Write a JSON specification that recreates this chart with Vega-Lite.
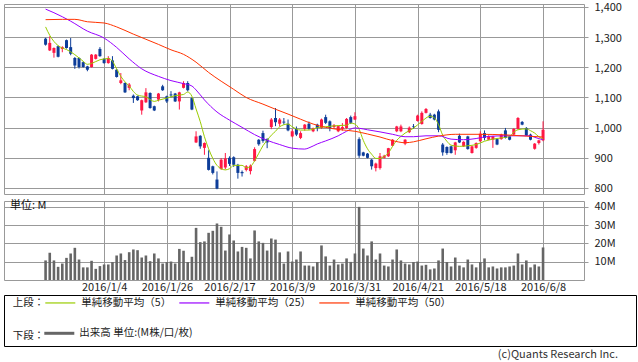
{
"$schema": "https://vega.github.io/schema/vega-lite/v6.json",
"padding": {"left": 3, "top": 1, "right": 0, "bottom": 0},
"background": "white",
"datasets": {
"k": [
{"i":0,"o":1295,"h":1298,"l":1272,"c":1275,"v":10.7},
{"i":1,"o":1256,"h":1303,"l":1254,"c":1281,"v":14.9},
{"i":2,"o":1248,"h":1266,"l":1232,"c":1264,"v":10.7},
{"i":3,"o":1270,"h":1272,"l":1233,"c":1235,"v":7.2},
{"i":4,"o":1261,"h":1270,"l":1250,"c":1267,"v":9.0},
{"i":5,"o":1290,"h":1292,"l":1262,"c":1264,"v":12.1},
{"i":6,"o":1267,"h":1297,"l":1240,"c":1245,"v":14.5},
{"i":7,"o":1231,"h":1234,"l":1195,"c":1206,"v":17.6},
{"i":8,"o":1231,"h":1233,"l":1196,"c":1201,"v":11.2},
{"i":9,"o":1217,"h":1219,"l":1199,"c":1201,"v":6.9},
{"i":10,"o":1203,"h":1205,"l":1187,"c":1192,"v":6.9},
{"i":11,"o":1201,"h":1244,"l":1199,"c":1242,"v":10.5},
{"i":12,"o":1228,"h":1244,"l":1226,"c":1242,"v":6.1},
{"i":13,"o":1261,"h":1267,"l":1235,"c":1237,"v":7.6},
{"i":14,"o":1228,"h":1231,"l":1212,"c":1214,"v":8.5},
{"i":15,"o":1214,"h":1237,"l":1212,"c":1231,"v":8.5},
{"i":16,"o":1223,"h":1237,"l":1193,"c":1195,"v":9.8},
{"i":17,"o":1192,"h":1194,"l":1166,"c":1168,"v":13.4},
{"i":18,"o":1148,"h":1181,"l":1144,"c":1157,"v":14.5},
{"i":19,"o":1148,"h":1150,"l":1115,"c":1117,"v":10.9},
{"i":20,"o":1132,"h":1148,"l":1124,"c":1143,"v":15.2},
{"i":21,"o":1106,"h":1110,"l":1082,"c":1098,"v":16.7},
{"i":22,"o":1104,"h":1106,"l":1089,"c":1091,"v":16.3},
{"i":23,"o":1057,"h":1093,"l":1043,"c":1091,"v":12.3},
{"i":24,"o":1084,"h":1131,"l":1082,"c":1117,"v":13.4},
{"i":25,"o":1115,"h":1117,"l":1063,"c":1065,"v":10.3},
{"i":26,"o":1071,"h":1073,"l":1055,"c":1057,"v":14.5},
{"i":27,"o":1093,"h":1115,"l":1087,"c":1113,"v":11.8},
{"i":28,"o":1137,"h":1142,"l":1122,"c":1124,"v":9.0},
{"i":29,"o":1104,"h":1106,"l":1082,"c":1087,"v":9.8},
{"i":30,"o":1110,"h":1121,"l":1100,"c":1107,"v":10.1},
{"i":31,"o":1113,"h":1115,"l":1085,"c":1087,"v":9.0},
{"i":32,"o":1087,"h":1119,"l":1060,"c":1117,"v":17.0},
{"i":33,"o":1132,"h":1154,"l":1130,"c":1148,"v":16.0},
{"i":34,"o":1148,"h":1154,"l":1120,"c":1124,"v":9.8},
{"i":35,"o":1098,"h":1100,"l":1058,"c":1060,"v":12.7},
{"i":36,"o":951,"h":988,"l":949,"c":971,"v":28.5},
{"i":37,"o":973,"h":975,"l":930,"c":938,"v":20.7},
{"i":38,"o":933,"h":951,"l":910,"c":949,"v":21.1},
{"i":39,"o":900,"h":925,"l":858,"c":860,"v":25.8},
{"i":40,"o":872,"h":874,"l":845,"c":850,"v":26.9},
{"i":41,"o":828,"h":855,"l":796,"c":798,"v":30.9},
{"i":42,"o":863,"h":899,"l":860,"c":894,"v":29.1},
{"i":43,"o":868,"h":916,"l":862,"c":898,"v":16.1},
{"i":44,"o":900,"h":905,"l":873,"c":880,"v":24.9},
{"i":45,"o":902,"h":905,"l":870,"c":877,"v":21.6},
{"i":46,"o":877,"h":880,"l":831,"c":850,"v":15.6},
{"i":47,"o":853,"h":858,"l":838,"c":849,"v":18.1},
{"i":48,"o":860,"h":876,"l":855,"c":872,"v":17.6},
{"i":49,"o":856,"h":878,"l":845,"c":874,"v":11.8},
{"i":50,"o":890,"h":935,"l":888,"c":929,"v":27.1},
{"i":51,"o":960,"h":962,"l":940,"c":945,"v":21.1},
{"i":52,"o":982,"h":990,"l":950,"c":956,"v":20.3},
{"i":53,"o":962,"h":965,"l":932,"c":951,"v":16.1},
{"i":54,"o":1002,"h":1032,"l":995,"c":1027,"v":22.7},
{"i":55,"o":1032,"h":1065,"l":1005,"c":1018,"v":22.1},
{"i":56,"o":1013,"h":1032,"l":1004,"c":1027,"v":15.1},
{"i":57,"o":1020,"h":1032,"l":1010,"c":1017,"v":9.0},
{"i":58,"o":1013,"h":1027,"l":988,"c":991,"v":15.6},
{"i":59,"o":971,"h":995,"l":968,"c":988,"v":10.1},
{"i":60,"o":996,"h":1004,"l":972,"c":977,"v":11.2},
{"i":61,"o":966,"h":988,"l":962,"c":982,"v":15.6},
{"i":62,"o":996,"h":1012,"l":990,"c":1010,"v":7.9},
{"i":63,"o":1013,"h":1020,"l":993,"c":996,"v":7.9},
{"i":64,"o":988,"h":1000,"l":985,"c":998,"v":7.4},
{"i":65,"o":1010,"h":1013,"l":988,"c":999,"v":9.8},
{"i":66,"o":999,"h":1030,"l":996,"c":1027,"v":18.9},
{"i":67,"o":1035,"h":1043,"l":1012,"c":1016,"v":12.9},
{"i":68,"o":1021,"h":1024,"l":988,"c":999,"v":7.9},
{"i":69,"o":1002,"h":1012,"l":996,"c":1008,"v":11.2},
{"i":70,"o":988,"h":1007,"l":985,"c":1005,"v":8.5},
{"i":71,"o":996,"h":1015,"l":990,"c":1002,"v":9.0},
{"i":72,"o":999,"h":1032,"l":996,"c":1029,"v":11.8},
{"i":73,"o":1035,"h":1040,"l":1012,"c":1016,"v":9.9},
{"i":74,"o":1027,"h":1051,"l":1025,"c":1038,"v":14.5},
{"i":75,"o":962,"h":968,"l":900,"c":907,"v":40.0},
{"i":76,"o":918,"h":920,"l":905,"c":907,"v":17.2},
{"i":77,"o":914,"h":916,"l":898,"c":900,"v":13.4},
{"i":78,"o":894,"h":896,"l":861,"c":872,"v":21.1},
{"i":79,"o":866,"h":884,"l":855,"c":881,"v":11.2},
{"i":80,"o":866,"h":916,"l":861,"c":905,"v":14.5},
{"i":81,"o":900,"h":910,"l":898,"c":907,"v":7.9},
{"i":82,"o":905,"h":933,"l":903,"c":932,"v":7.4},
{"i":83,"o":940,"h":962,"l":938,"c":960,"v":11.2},
{"i":84,"o":988,"h":1006,"l":985,"c":1004,"v":16.7},
{"i":85,"o":988,"h":1010,"l":985,"c":1004,"v":10.7},
{"i":86,"o":947,"h":962,"l":942,"c":960,"v":9.0},
{"i":87,"o":985,"h":1004,"l":982,"c":1000,"v":8.5},
{"i":88,"o":1004,"h":1012,"l":996,"c":1002,"v":9.8},
{"i":89,"o":1022,"h":1043,"l":1020,"c":1040,"v":10.1},
{"i":90,"o":1012,"h":1054,"l":1010,"c":1049,"v":7.9},
{"i":91,"o":1049,"h":1065,"l":1047,"c":1062,"v":8.3},
{"i":92,"o":1043,"h":1049,"l":1030,"c":1032,"v":5.8},
{"i":93,"o":1043,"h":1046,"l":1024,"c":1027,"v":6.3},
{"i":94,"o":1054,"h":1060,"l":985,"c":993,"v":10.7},
{"i":95,"o":944,"h":949,"l":907,"c":918,"v":17.2},
{"i":96,"o":936,"h":938,"l":910,"c":916,"v":9.8},
{"i":97,"o":938,"h":940,"l":914,"c":916,"v":7.4},
{"i":98,"o":925,"h":953,"l":910,"c":951,"v":12.3},
{"i":99,"o":973,"h":980,"l":949,"c":951,"v":7.9},
{"i":100,"o":938,"h":955,"l":936,"c":953,"v":6.9},
{"i":101,"o":971,"h":973,"l":927,"c":929,"v":11.2},
{"i":102,"o":916,"h":940,"l":914,"c":938,"v":8.5},
{"i":103,"o":933,"h":951,"l":930,"c":949,"v":6.9},
{"i":104,"o":955,"h":988,"l":953,"c":980,"v":9.8},
{"i":105,"o":982,"h":991,"l":958,"c":966,"v":11.8},
{"i":106,"o":960,"h":975,"l":958,"c":971,"v":6.9},
{"i":107,"o":960,"h":973,"l":933,"c":971,"v":7.4},
{"i":108,"o":962,"h":965,"l":942,"c":944,"v":6.3},
{"i":109,"o":962,"h":980,"l":960,"c":977,"v":6.9},
{"i":110,"o":991,"h":999,"l":964,"c":966,"v":6.9},
{"i":111,"o":971,"h":973,"l":958,"c":960,"v":7.4},
{"i":112,"o":977,"h":998,"l":975,"c":996,"v":7.9},
{"i":113,"o":996,"h":1035,"l":994,"c":1032,"v":14.5},
{"i":114,"o":1019,"h":1022,"l":1008,"c":1010,"v":8.5},
{"i":115,"o":999,"h":1002,"l":972,"c":974,"v":10.7},
{"i":116,"o":977,"h":980,"l":958,"c":960,"v":6.9},
{"i":117,"o":930,"h":949,"l":927,"c":947,"v":8.5},
{"i":118,"o":949,"h":960,"l":944,"c":958,"v":7.4},
{"i":119,"o":958,"h":1021,"l":955,"c":993,"v":17.8}
],
"ma": [
{"s":"単純移動平均（5）","i":0,"v":1334},{"s":"単純移動平均（5）","i":1,"v":1306},{"s":"単純移動平均（5）","i":3,"v":1272},{"s":"単純移動平均（5）","i":4,"v":1264},{"s":"単純移動平均（5）","i":5,"v":1259},{"s":"単純移動平均（5）","i":7,"v":1242},{"s":"単純移動平均（5）","i":9,"v":1220},{"s":"単純移動平均（5）","i":10,"v":1210},{"s":"単純移動平均（5）","i":11,"v":1213},{"s":"単純移動平均（5）","i":13,"v":1225},{"s":"単純移動平均（5）","i":15,"v":1229},{"s":"単純移動平均（5）","i":16,"v":1220},{"s":"単純移動平均（5）","i":17,"v":1195},{"s":"単純移動平均（5）","i":18,"v":1170},{"s":"単純移動平均（5）","i":19,"v":1152},{"s":"単純移動平均（5）","i":20,"v":1138},{"s":"単純移動平均（5）","i":21,"v":1120},{"s":"単純移動平均（5）","i":22,"v":1108},{"s":"単純移動平均（5）","i":24,"v":1102},{"s":"単純移動平均（5）","i":26,"v":1087},{"s":"単純移動平均（5）","i":27,"v":1091},{"s":"単純移動平均（5）","i":29,"v":1098},{"s":"単純移動平均（5）","i":31,"v":1106},{"s":"単純移動平均（5）","i":33,"v":1110},{"s":"単純移動平均（5）","i":34,"v":1118},{"s":"単純移動平均（5）","i":35,"v":1104},{"s":"単純移動平均（5）","i":36,"v":1062},{"s":"単純移動平均（5）","i":37,"v":1020},{"s":"単純移動平均（5）","i":38,"v":970},{"s":"単純移動平均（5）","i":39,"v":930},{"s":"単純移動平均（5）","i":40,"v":898},{"s":"単純移動平均（5）","i":41,"v":875},{"s":"単純移動平均（5）","i":42,"v":864},{"s":"単純移動平均（5）","i":43,"v":860},{"s":"単純移動平均（5）","i":44,"v":864},{"s":"単純移動平均（5）","i":45,"v":875},{"s":"単純移動平均（5）","i":47,"v":875},{"s":"単純移動平均（5）","i":48,"v":867},{"s":"単純移動平均（5）","i":49,"v":871},{"s":"単純移動平均（5）","i":50,"v":890},{"s":"単純移動平均（5）","i":51,"v":915},{"s":"単純移動平均（5）","i":52,"v":940},{"s":"単純移動平均（5）","i":53,"v":958},{"s":"単純移動平均（5）","i":54,"v":975},{"s":"単純移動平均（5）","i":55,"v":988},{"s":"単純移動平均（5）","i":56,"v":1003},{"s":"単純移動平均（5）","i":58,"v":1012},{"s":"単純移動平均（5）","i":59,"v":1003},{"s":"単純移動平均（5）","i":61,"v":992},{"s":"単純移動平均（5）","i":63,"v":992},{"s":"単純移動平均（5）","i":65,"v":1000},{"s":"単純移動平均（5）","i":67,"v":1003},{"s":"単純移動平均（5）","i":70,"v":1007},{"s":"単純移動平均（5）","i":72,"v":1008},{"s":"単純移動平均（5）","i":73,"v":1015},{"s":"単純移動平均（5）","i":74,"v":1012},{"s":"単純移動平均（5）","i":75,"v":995},{"s":"単純移動平均（5）","i":76,"v":958},{"s":"単純移動平均（5）","i":77,"v":930},{"s":"単純移動平均（5）","i":78,"v":912},{"s":"単純移動平均（5）","i":79,"v":898},{"s":"単純移動平均（5）","i":80,"v":898},{"s":"単純移動平均（5）","i":81,"v":905},{"s":"単純移動平均（5）","i":82,"v":916},{"s":"単純移動平均（5）","i":83,"v":938},{"s":"単純移動平均（5）","i":84,"v":958},{"s":"単純移動平均（5）","i":85,"v":971},{"s":"単純移動平均（5）","i":86,"v":982},{"s":"単純移動平均（5）","i":88,"v":998},{"s":"単純移動平均（5）","i":90,"v":1021},{"s":"単純移動平均（5）","i":92,"v":1038},{"s":"単純移動平均（5）","i":93,"v":1033},{"s":"単純移動平均（5）","i":94,"v":1010},{"s":"単純移動平均（5）","i":95,"v":975},{"s":"単純移動平均（5）","i":96,"v":955},{"s":"単純移動平均（5）","i":97,"v":942},{"s":"単純移動平均（5）","i":99,"v":938},{"s":"単純移動平均（5）","i":101,"v":940},{"s":"単純移動平均（5）","i":103,"v":944},{"s":"単純移動平均（5）","i":105,"v":955},{"s":"単純移動平均（5）","i":107,"v":962},{"s":"単純移動平均（5）","i":109,"v":966},{"s":"単純移動平均（5）","i":111,"v":971},{"s":"単純移動平均（5）","i":112,"v":985},{"s":"単純移動平均（5）","i":113,"v":993},{"s":"単純移動平均（5）","i":115,"v":996},{"s":"単純移動平均（5）","i":116,"v":990},{"s":"単純移動平均（5）","i":117,"v":982},{"s":"単純移動平均（5）","i":118,"v":970},{"s":"単純移動平均（5）","i":119,"v":962},
{"s":"単純移動平均（25）","i":0,"v":1393},{"s":"単純移動平均（25）","i":2,"v":1381},{"s":"単純移動平均（25）","i":6,"v":1353},{"s":"単純移動平均（25）","i":10,"v":1320},{"s":"単純移動平均（25）","i":14,"v":1297},{"s":"単純移動平均（25）","i":17,"v":1266},{"s":"単純移動平均（25）","i":20,"v":1228},{"s":"単純移動平均（25）","i":23,"v":1195},{"s":"単純移動平均（25）","i":27,"v":1170},{"s":"単純移動平均（25）","i":30,"v":1156},{"s":"単純移動平均（25）","i":33,"v":1146},{"s":"単純移動平均（25）","i":35,"v":1138},{"s":"単純移動平均（25）","i":36,"v":1125},{"s":"単純移動平均（25）","i":38,"v":1092},{"s":"単純移動平均（25）","i":41,"v":1052},{"s":"単純移動平均（25）","i":44,"v":1025},{"s":"単純移動平均（25）","i":47,"v":1001},{"s":"単純移動平均（25）","i":50,"v":977},{"s":"単純移動平均（25）","i":53,"v":958},{"s":"単純移動平均（25）","i":56,"v":944},{"s":"単純移動平均（25）","i":59,"v":932},{"s":"単純移動平均（25）","i":62,"v":929},{"s":"単純移動平均（25）","i":63,"v":933},{"s":"単純移動平均（25）","i":65,"v":946},{"s":"単純移動平均（25）","i":67,"v":956},{"s":"単純移動平均（25）","i":70,"v":973},{"s":"単純移動平均（25）","i":72,"v":988},{"s":"単純移動平均（25）","i":74,"v":999},{"s":"単純移動平均（25）","i":75,"v":998},{"s":"単純移動平均（25）","i":77,"v":993},{"s":"単純移動平均（25）","i":80,"v":986},{"s":"単純移動平均（25）","i":83,"v":978},{"s":"単純移動平均（25）","i":86,"v":970},{"s":"単純移動平均（25）","i":88,"v":970},{"s":"単純移動平均（25）","i":91,"v":973},{"s":"単純移動平均（25）","i":94,"v":973},{"s":"単純移動平均（25）","i":97,"v":962},{"s":"単純移動平均（25）","i":100,"v":960},{"s":"単純移動平均（25）","i":103,"v":964},{"s":"単純移動平均（25）","i":106,"v":971},{"s":"単純移動平均（25）","i":110,"v":973},{"s":"単純移動平均（25）","i":113,"v":973},{"s":"単純移動平均（25）","i":116,"v":973},{"s":"単純移動平均（25）","i":117,"v":968},{"s":"単純移動平均（25）","i":119,"v":960},
{"s":"単純移動平均（50）","i":0,"v":1358},{"s":"単純移動平均（50）","i":4,"v":1359},{"s":"単純移動平均（50）","i":7,"v":1359},{"s":"単純移動平均（50）","i":10,"v":1351},{"s":"単純移動平均（50）","i":14,"v":1347},{"s":"単純移動平均（50）","i":17,"v":1334},{"s":"単純移動平均（50）","i":21,"v":1310},{"s":"単純移動平均（50）","i":27,"v":1276},{"s":"単純移動平均（50）","i":30,"v":1258},{"s":"単純移動平均（50）","i":33,"v":1243},{"s":"単純移動平均（50）","i":36,"v":1217},{"s":"単純移動平均（50）","i":39,"v":1183},{"s":"単純移動平均（50）","i":42,"v":1154},{"s":"単純移動平均（50）","i":45,"v":1127},{"s":"単純移動平均（50）","i":48,"v":1100},{"s":"単純移動平均（50）","i":52,"v":1078},{"s":"単純移動平均（50）","i":55,"v":1061},{"s":"単純移動平均（50）","i":58,"v":1045},{"s":"単純移動平均（50）","i":61,"v":1028},{"s":"単純移動平均（50）","i":64,"v":1012},{"s":"単純移動平均（50）","i":67,"v":1001},{"s":"単純移動平均（50）","i":70,"v":994},{"s":"単純移動平均（50）","i":74,"v":988},{"s":"単純移動平均（50）","i":77,"v":979},{"s":"単純移動平均（50）","i":80,"v":969},{"s":"単純移動平均（50）","i":83,"v":957},{"s":"単純移動平均（50）","i":86,"v":950},{"s":"単純移動平均（50）","i":88,"v":953},{"s":"単純移動平均（50）","i":91,"v":963},{"s":"単純移動平均（50）","i":94,"v":972},{"s":"単純移動平均（50）","i":98,"v":978},{"s":"単純移動平均（50）","i":104,"v":978},{"s":"単純移動平均（50）","i":110,"v":976},{"s":"単純移動平均（50）","i":115,"v":972},{"s":"単純移動平均（50）","i":119,"v":969}
],
"rows": [{"t": "上段："}, {"t": "下段："}]
},
"spacing": 1,
"vconcat": [
{
"spacing": 4,
"vconcat": [
{
"width": 580,
"height": 190,
"data": {"name": "k"},
"layer": [
{
"mark": {"type": "rule", "strokeWidth": 1},
"encoding": {
"x": {"field": "i", "type": "quantitative", "scale": {"domain": [-8.75, 127.6], "nice": false, "zero": false},
"axis": {"values": [14,29,44,59,74,89,104,119], "grid": true, "labels": false, "ticks": false, "domain": false, "title": null}},
"y": {"field": "l", "type": "quantitative", "scale": {"domain": [780.1, 1409.9], "nice": false, "zero": false},
"axis": {"orient": "right", "values": [800,900,1000,1100,1200,1300,1400], "labelExpr": "format(datum.value, ',')", "labelOverlap": false, "labelOffset": 1, "grid": true, "ticks": true, "tickSize": 4, "labelPadding": 6, "domain": false, "title": null}},
"y2": {"field": "h"},
"color": {"condition": {"test": "datum.c >= datum.o", "value": "#ff1744"}, "value": "#0d3d99"}
}
},
{
"mark": {"type": "bar", "width": 3},
"encoding": {
"x": {"field": "i", "type": "quantitative"},
"y": {"field": "o", "type": "quantitative",
"axis": {"orient": "right", "values": [800,900,1000,1100,1200,1300,1400], "labelExpr": "format(datum.value, ',')", "labelOverlap": false, "labelOffset": 1, "grid": true, "ticks": true, "tickSize": 4, "labelPadding": 6, "domain": false, "title": null}},
"y2": {"field": "c"},
"color": {"condition": {"test": "datum.c >= datum.o", "value": "#ff1744"}, "value": "#0d3d99"}
}
},
{
"data": {"name": "ma"},
"mark": {"type": "line", "strokeWidth": 1, "interpolate": "monotone"},
"encoding": {
"x": {"field": "i", "type": "quantitative"},
"y": {"field": "v", "type": "quantitative",
"axis": {"orient": "right", "values": [800,900,1000,1100,1200,1300,1400], "labelExpr": "format(datum.value, ',')", "labelOverlap": false, "labelOffset": 1, "grid": true, "ticks": true, "tickSize": 4, "labelPadding": 6, "domain": false, "title": null}},
"color": {"field": "s", "type": "nominal",
"scale": {"domain": ["単純移動平均（5）","単純移動平均（25）","単純移動平均（50）"], "range": ["#99cc00","#9900ff","#ff3300"]},
"legend": {"title": null, "orient": "none", "legendX": 40.3, "legendY": 282.7, "direction": "horizontal", "symbolType": "stroke", "symbolSize": 900, "symbolStrokeWidth": 1.2, "labelOffset": 5, "columnPadding": 5}}
}
}
]
},
{
"width": 580,
"height": 79,
"layer": [
{
"data": {"name": "k"},
"mark": {"type": "bar", "width": 2.6, "color": "#666666"},
"encoding": {
"x": {"field": "i", "type": "quantitative", "scale": {"domain": [-8.75, 127.6], "nice": false, "zero": false},
"axis": {"values": [14,29,44,59,74,89,104,119], "grid": true, "ticks": false, "domain": false, "labelPadding": 1, "labelFlush": false, "labelOverlap": false, "title": null,
"labelExpr": "datum.value == 14 ? '2016/1/4' : datum.value == 29 ? '2016/1/26' : datum.value == 44 ? '2016/2/17' : datum.value == 59 ? '2016/3/9' : datum.value == 74 ? '2016/3/31' : datum.value == 89 ? '2016/4/21' : datum.value == 104 ? '2016/5/18' : '2016/6/8'"}},
"y": {"field": "v", "type": "quantitative", "scale": {"domain": [0, 43.2], "nice": false},
"axis": {"orient": "right", "values": [10,20,30,40], "labelExpr": "datum.value + 'M'", "labelOverlap": false, "grid": true, "ticks": true, "tickSize": 4, "labelPadding": 6, "domain": false, "title": null}},
"opacity": {"datum": "出来高 単位:(M株/口/枚)", "type": "nominal", "scale": {"range": [1]},
"legend": {"title": null, "orient": "none", "legendX": 40.3, "legendY": 314.3, "direction": "horizontal", "symbolType": "M-1,-0.1H1V0.1H-1Z", "symbolSize": 900, "symbolStrokeWidth": 0, "symbolFillColor": "#666666", "labelOffset": 5,
"encode": {"symbols": {"update": {"fill": {"value": "#666666"}, "opacity": {"value": 1}}}}}}
}
},
{
"data": {"values": [{"t": "単位: M"}]},
"mark": {"type": "text", "align": "left", "baseline": "top", "dx": 1, "dy": -1, "fontSize": 11, "color": "#111111"},
"encoding": {
"x": {"datum": -8.75, "type": "quantitative"},
"y": {"datum": 43.2, "type": "quantitative",
"axis": {"orient": "right", "values": [10,20,30,40], "labelExpr": "datum.value + 'M'", "labelOverlap": false, "grid": true, "ticks": true, "tickSize": 4, "labelPadding": 6, "domain": false, "title": null}},
"text": {"field": "t"}
}
}
]
}
]
},
{
"width": 632,
"height": 51,
"view": {"stroke": "#000000", "strokeWidth": 1},
"data": {"name": "rows"},
"mark": {"type": "text", "align": "left", "baseline": "middle", "dx": 8.7, "fontSize": 10.5, "color": "#222222"},
"encoding": {
"x": {"datum": 0, "type": "quantitative", "scale": {"domain": [0, 1]}, "axis": null},
"y": {"field": "t", "type": "nominal", "sort": null, "scale": {"domain": ["上段：", "下段："], "padding": 0.282, "align": 0.457}, "axis": null},
"text": {"field": "t"}
},
"title": {"text": "(c)Quants Research Inc.", "orient": "bottom", "anchor": "end", "offset": 3, "dx": -18, "fontSize": 11, "fontWeight": "normal", "color": "#333333", "font": "Noto Sans CJK JP"}
}
],
"config": {
"font": "Noto Sans CJK JP",
"view": {"stroke": "#999999", "strokeWidth": 1},
"axis": {"gridColor": "#999999", "gridOpacity": 1, "gridWidth": 1, "tickColor": "#999999", "labelFont": "Noto Sans CJK JP", "labelFontSize": 11, "labelColor": "#222222", "labelFlush": false},
"legend": {"titleFont": "Noto Sans CJK JP", "labelFont": "Noto Sans CJK JP", "titleFontSize": 10.5, "labelFontSize": 10.5, "titleFontWeight": "normal", "titleColor": "#222222", "labelColor": "#222222", "padding": 0, "labelLimit": 300}
}
}
